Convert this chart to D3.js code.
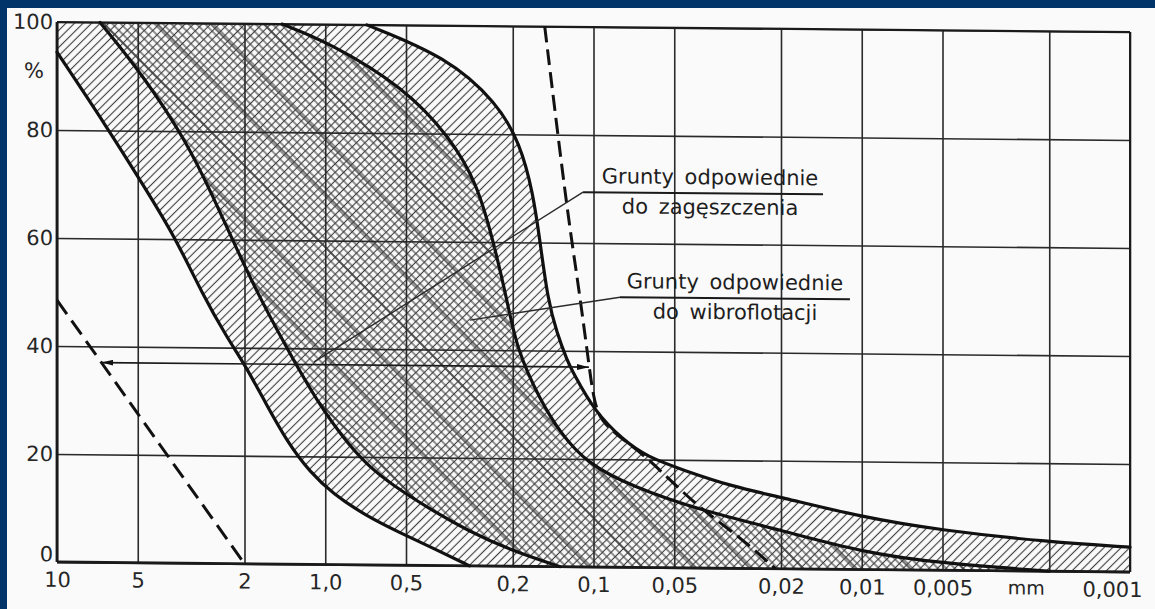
<!DOCTYPE html>
<html>
<head>
<meta charset="utf-8">
<script src="https://cdn.jsdelivr.net/npm/d3@7"></script>
<style>
body{margin:0;background:#fff;}
svg{display:block;font-family:"DejaVu Sans",sans-serif;}
</style>
</head>
<body>
<svg id="chart" width="1155" height="609"></svg>
<script>
// grain size in mm (log axis) and percent passing
var xTicks = [10,5,2,1,0.5,0.2,0.1,0.05,0.02,0.01,0.005,0.002,0.001];
var xTickLabels = ["10","5","2","1,0","0,5","0,2","0,1","0,05","0,02","0,01","0,005","","0,001"];
var yTicks = [0,20,40,60,80,100];

// boundary curves, left to right
var curveA = [[10,94.4],[6.51,80.6],[4.78,70.0],[3.63,60.4],[2.86,49.7],[2.32,41.8],[1.99,36.8],[1.677,30.0],[1.377,22.4],[1.14,17.1],[0.936,13.1],[0.711,9.2],[0.526,6.0],[0.39,3.05],[0.29,0]];
var curveB = [[6.91,100],[4.78,90.3],[3.28,78.0],[2.62,67.9],[2.17,59.0],[1.797,50.3],[1.413,40.6],[1.073,30.1],[0.809,21.8],[0.652,17.2],[0.526,13.9],[0.39,9.9],[0.296,6.6],[0.205,3.0],[0.133,0]];
var curveC = [[1.45,100],[0.96,96.6],[0.513,88.6],[0.343,79.4],[0.272,70.9],[0.237,60.4],[0.21,49.3],[0.193,40.1],[0.158,30.8],[0.133,24.8],[0.106,19.2],[0.0713,14.9],[0.0401,10.7],[0.0202,7.2],[0.01,3.2],[0.0051,1.3],[0.002,0]];
var curveD = [[0.7,100],[0.352,94.2],[0.229,85.8],[0.188,78.4],[0.168,69.2],[0.158,59.9],[0.148,49.4],[0.137,43.3],[0.1256,38.3],[0.119,35.9],[0.0987,28.7],[0.0776,23.6],[0.0632,20.5],[0.0463,18.1],[0.0302,15.1],[0.0202,13.3],[0.01,9.7],[0.0051,7.4],[0.002,5.4],[0.001,4.6]];

// dashed limits and the arrow between them
var dashLeft = [[10,48.5],[2,0]];
var dashRight = [[0.152,100],[0.1256,66.1],[0.115,53.7],[0.1057,40.2],[0.1,30.9],[0.094,27],[0.0776,23.6],[0.0632,20.5],[0.0426,12],[0.0284,5.8],[0.021,0]];
var arrowLine = [[6.83,37],[0.104,37]];

// labels: underline start point and leader end point
var labels = [
  {lines:["Grunty odpowiednie","do zagęszczenia"], at:[0.1094,69.4], to:[1.1,37.5], len:240, cx:127},
  {lines:["Grunty odpowiednie","do wibroflotacji"], at:[0.0797,50], to:[0.289,45.5], len:230, cx:115}
];

var svg = d3.select("#chart");
svg.append("rect").attr("width",1155).attr("height",609).attr("fill","#fafafa");

var x = d3.scaleLog().domain([10,0.001]).range([57,1130]);
var y = d3.scaleLinear().domain([0,100]).range([562,22]);
var skew = 0.0093; // the scanned page sags to the right

var defs = svg.append("defs");
function hatch(id, angle, gap, w, cross){
  var p = defs.append("pattern").attr("id",id)
    .attr("patternUnits","userSpaceOnUse")
    .attr("width",gap).attr("height",gap)
    .attr("patternTransform","rotate("+angle+")");
  p.append("line").attr("x1",gap/2).attr("y1",0).attr("x2",gap/2).attr("y2",gap)
    .attr("stroke","#3a3a3a").attr("stroke-width",w);
  if(cross){
    p.append("line").attr("x1",0).attr("y1",gap/2).attr("x2",gap).attr("y2",gap/2)
      .attr("stroke","#3a3a3a").attr("stroke-width",w);
  }
}
hatch("single",45,6,1.1,false);
hatch("cross",45,6,1.1,true);
hatch("sparse",-45,38,1.4,false);

var g = svg.append("g")
  .attr("transform","matrix(1,"+skew+",0,1,0,"+(-skew*57)+")");

// B-spline smooths out the reading noise of the scan
var line = d3.line()
  .x(function(d){return x(d[0]);})
  .y(function(d){return y(d[1]);})
  .curve(d3.curveBasis);

function seg(pts){ return line(pts).replace(/^M/,"L"); }
function pt(d){ return "L"+x(d[0])+","+y(d[1]); }
function last(a){ return a[a.length-1]; }
function rev(a){ return a.slice().reverse(); }

var pathAB = line(curveB) + pt(last(curveA)) + seg(rev(curveA)) + pt([10,100]) + "Z";
var pathBC = line(curveC) + pt(last(curveB)) + seg(rev(curveB)) + "Z";
var pathCD = line(curveD) + pt([0.001,0]) + pt(last(curveC)) + seg(rev(curveC)) + "Z";

g.append("path").attr("d",pathAB).attr("fill","url(#single)");
g.append("path").attr("d",pathBC).attr("fill","url(#cross)");
g.append("path").attr("d",pathBC).attr("fill","url(#sparse)");
g.append("path").attr("d",pathCD).attr("fill","url(#single)");

// grid + tick labels
var h = y(0) - y(100);
var gx = g.append("g").attr("transform","translate(0,"+y(0)+")")
  .call(d3.axisBottom(x).tickValues(xTicks).tickSize(-h).tickPadding(10)
    .tickFormat(function(d,i){return xTickLabels[i];}));
gx.select(".domain").remove();
gx.selectAll("line").attr("stroke","#2a2a2a").attr("stroke-width",1.6);
gx.selectAll("text").attr("font-size",21).attr("fill","#262626")
  .attr("font-family","DejaVu Sans, sans-serif");
gx.selectAll(".tick").filter(function(d){return d===0.001;}).select("text")
  .attr("text-anchor","end").attr("dx",12);

var gy = g.append("g").attr("transform","translate("+x(10)+",0)")
  .call(d3.axisLeft(y).tickValues(yTicks).tickSize(-(x(0.001)-x(10))).tickPadding(4));
gy.select(".domain").remove();
gy.selectAll("line").attr("stroke","#2a2a2a").attr("stroke-width",1.6);
gy.selectAll("text").attr("font-size",21).attr("fill","#262626")
  .attr("font-family","DejaVu Sans, sans-serif");
gy.selectAll(".tick").filter(function(d){return d===0;}).select("text").attr("dy","-0.05em");

g.append("text").attr("x",x(10)-13).attr("y",y(91)).attr("dy","0.35em")
  .attr("text-anchor","end").attr("font-size",21).attr("fill","#262626").text("%");
g.append("text").attr("x",x(0.002)-23).attr("y",y(0)+10).attr("dy","0.71em")
  .attr("text-anchor","middle").attr("font-size",19).attr("fill","#262626").text("mm");

// frame
g.append("line").attr("x1",x(10)).attr("x2",x(10)).attr("y1",y(100)).attr("y2",y(0))
  .attr("stroke","#1a1a1a").attr("stroke-width",2.8);
g.append("line").attr("x1",x(10)).attr("x2",x(0.001)).attr("y1",y(0)).attr("y2",y(0))
  .attr("stroke","#1a1a1a").attr("stroke-width",2.8);
g.append("line").attr("x1",x(0.001)).attr("x2",x(0.001)).attr("y1",y(100)).attr("y2",y(0))
  .attr("stroke","#1a1a1a").attr("stroke-width",2);
g.append("line").attr("x1",x(10)).attr("x2",x(0.001)).attr("y1",y(100)).attr("y2",y(100))
  .attr("stroke","#1a1a1a").attr("stroke-width",2);

// boundary curves
[curveA,curveB,curveC,curveD].forEach(function(c){
  g.append("path").attr("d",line(c)).attr("fill","none")
    .attr("stroke","#111").attr("stroke-width",3.2).attr("stroke-linecap","round");
});

g.append("path").attr("d",line(dashLeft)).attr("fill","none")
  .attr("stroke","#111").attr("stroke-width",3).attr("stroke-dasharray","17 8");
g.append("path").attr("d",line(dashRight)).attr("fill","none")
  .attr("stroke","#111").attr("stroke-width",3).attr("stroke-dasharray","16 7");

// arrow
defs.append("marker").attr("id","arr").attr("viewBox","0 0 12 6")
  .attr("refX",12).attr("refY",3).attr("markerWidth",12).attr("markerHeight",6)
  .attr("markerUnits","userSpaceOnUse").attr("orient","auto-start-reverse")
  .append("path").attr("d","M0,0L12,3L0,6Z").attr("fill","#111");
g.append("path").attr("d",d3.line().x(function(d){return x(d[0]);}).y(function(d){return y(d[1]);})(arrowLine))
  .attr("stroke","#1a1a1a").attr("stroke-width",1.6).attr("fill","none")
  .attr("marker-start","url(#arr)").attr("marker-end","url(#arr)");

// annotations
labels.forEach(function(l){
  var ax = x(l.at[0]), ay = y(l.at[1]);
  g.append("line").attr("x1",ax).attr("y1",ay).attr("x2",x(l.to[0])).attr("y2",y(l.to[1]))
    .attr("stroke","#2a2a2a").attr("stroke-width",1.4);
  g.append("line").attr("x1",ax).attr("y1",ay).attr("x2",ax+l.len).attr("y2",ay)
    .attr("stroke","#1a1a1a").attr("stroke-width",2);
  g.append("text").attr("x",ax+l.cx).attr("y",ay-9).attr("text-anchor","middle")
    .attr("font-size",21).attr("word-spacing",4).attr("fill","#1e1e1e").text(l.lines[0]);
  g.append("text").attr("x",ax+l.cx).attr("y",ay+21).attr("text-anchor","middle")
    .attr("font-size",21).attr("word-spacing",4).attr("fill","#1e1e1e").text(l.lines[1]);
});

// slide border
svg.append("rect").attr("x",0).attr("y",0).attr("width",1155).attr("height",8).attr("fill","#013469");
svg.append("rect").attr("x",0).attr("y",0).attr("width",7).attr("height",609).attr("fill","#013469");
</script>
</body>
</html>
